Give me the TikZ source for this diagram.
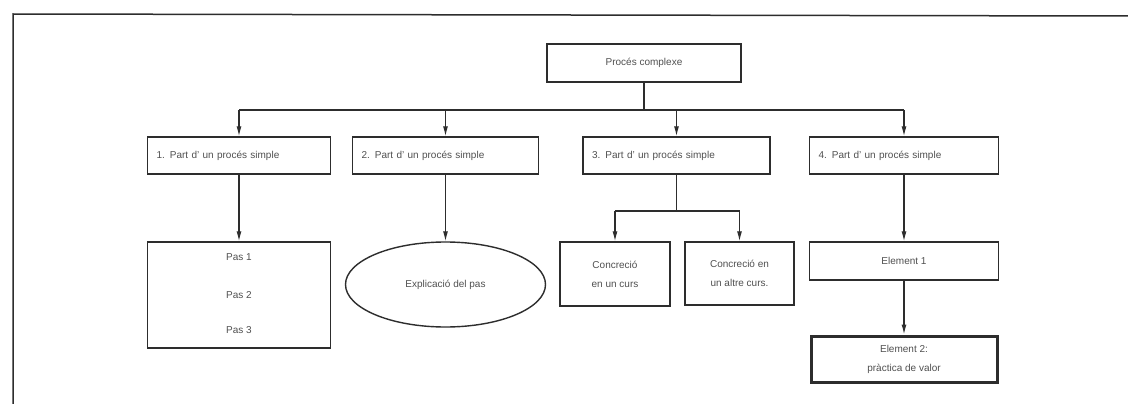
\documentclass[tikz,border=0pt]{standalone}
\usepackage{fontspec}
\setmainfont{Liberation Sans}
\usetikzlibrary{arrows.meta,shapes.geometric}
\definecolor{ink}{RGB}{45,45,45}
\definecolor{txt}{RGB}{80,80,80}
\begin{document}
\begin{tikzpicture}[x=1pt,y=-1pt,
  every node/.style={font=\fontsize{10}{19}\selectfont, text=txt},
  box/.style={draw=ink, line width=1.4pt, rectangle, inner sep=0pt, align=center},
  partbox/.style={box, minimum height=37pt, text width=#1-18pt, minimum width=#1, align=left},
  link/.style={draw=ink, line width=1.2pt},
  arr/.style={link, -{Latex[length=10pt,width=5pt]}}]
  % canvas and page frame
  \fill[white] (0,0) rectangle (1128,404);
  \useasboundingbox (0,0) rectangle (1128,404);
  \draw[ink, line width=1.5pt] (13,404) -- (13,14) -- (1128,16);

  % root
  \node[box, minimum width=194pt, minimum height=38pt] (root) at (644,63) {Procés complexe};

  % four parts
  \node[partbox=183pt] (p1) at (239,155.5) {1. Part d' un procés simple};
  \node[partbox=186pt] (p2) at (445.5,155.5) {2. Part d' un procés simple};
  \node[partbox=187pt] (p3) at (676.5,155.5) {3. Part d' un procés simple};
  \node[partbox=189pt] (p4) at (904,155.5) {4. Part d' un procés simple};

  % bus from the root to the parts
  \coordinate (bus) at (644,110);
  \draw[link] (root.south) -- (bus);
  \draw[link] (p1.north |- bus) -- (p4.north |- bus);
  \foreach \n in {p1,p2,p3,p4}
    \draw[arr] (\n.north |- bus) -- (\n.north);

  % part 1: steps
  \node[box, minimum width=183pt, minimum height=106pt] (steps) at (239,295) {};
  \node (s1) at (239,257.5) {Pas 1};
  \node (s2) at (239,295) {Pas 2};
  \node (s3) at (239,330) {Pas 3};
  \draw[arr] (p1.south) -- (steps.north);

  % part 2: explanation
  \node[draw=ink, line width=1.4pt, ellipse, inner sep=0pt, minimum width=200pt, minimum height=85pt] (expl) at (445.5,284.5) {Explicació del pas};
  \draw[arr] (p2.south) -- (expl.north);

  % part 3: two courses
  \node[box, minimum width=110pt, minimum height=64pt] (c1) at (615,274) {Concreció\\en un curs};
  \node[box, minimum width=109pt, minimum height=63pt] (c2) at (739.5,273.5) {Concreció en\\un altre curs.};
  \coordinate (fork) at (676.5,211);
  \draw[link] (p3.south) -- (fork);
  \draw[link] (c1.north |- fork) -- (c2.north |- fork);
  \draw[arr] (c1.north |- fork) -- (c1.north);
  \draw[arr] (c2.north |- fork) -- (c2.north);

  % part 4: elements
  \node[box, minimum width=189pt, minimum height=38pt] (e1) at (904,261) {Element 1};
  \node[box, line width=3pt, minimum width=186pt, minimum height=46pt] (e2) at (904,359) {Element 2:\\pràctica de valor};
  \draw[arr] (p4.south) -- (e1.north);
  \draw[arr] (e1.south) -- (e2.north);
\end{tikzpicture}
\end{document}
